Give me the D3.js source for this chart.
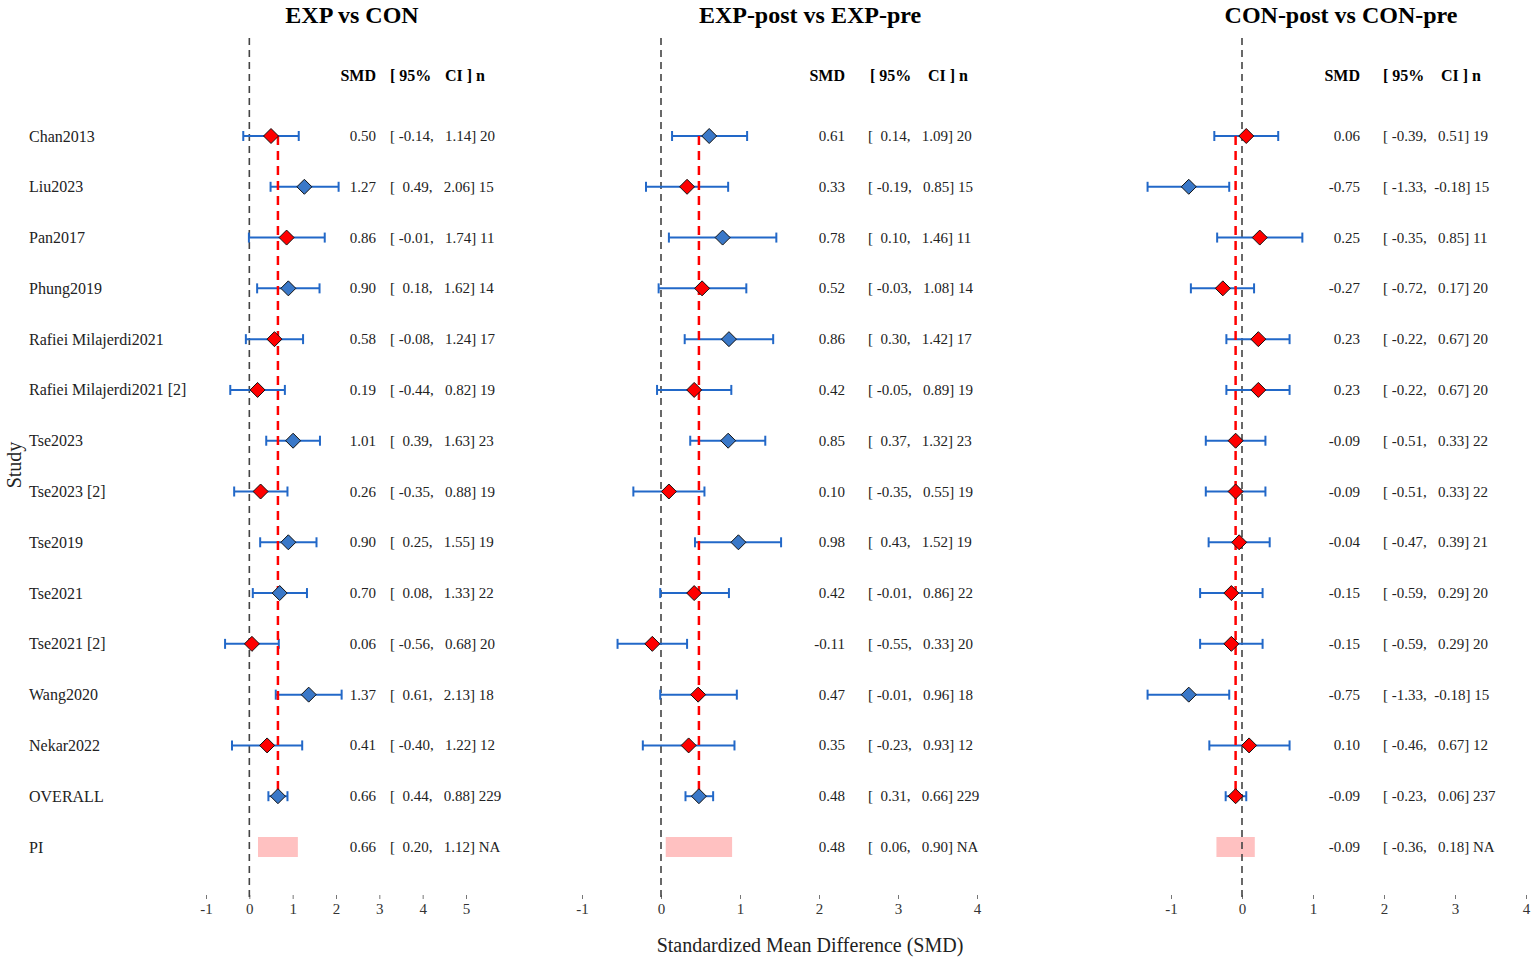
<!DOCTYPE html>
<html>
<head>
<meta charset="utf-8">
<script src="https://cdn.jsdelivr.net/npm/d3@7"></script>
<style>
  body { margin: 0; background: #fff; }
  text { font-family: "Liberation Serif", "Times New Roman", serif; }
</style>
</head>
<body>
<div id="forest"></div>
<script>
// Forest plots: three comparisons side by side, shared study list

var studies = ["Chan2013", "Liu2023", "Pan2017", "Phung2019", "Rafiei Milajerdi2021",
  "Rafiei Milajerdi2021 [2]", "Tse2023", "Tse2023 [2]", "Tse2019", "Tse2021",
  "Tse2021 [2]", "Wang2020", "Nekar2022", "OVERALL", "PI"];

// EXP vs CON
var expConSmd = [0.50, 1.27, 0.86, 0.90, 0.58, 0.19, 1.01, 0.26, 0.90, 0.70, 0.06, 1.37, 0.41, 0.66, 0.66];
var expConLo  = [-0.14, 0.49, -0.01, 0.18, -0.08, -0.44, 0.39, -0.35, 0.25, 0.08, -0.56, 0.61, -0.40, 0.44, 0.20];
var expConHi  = [1.14, 2.06, 1.74, 1.62, 1.24, 0.82, 1.63, 0.88, 1.55, 1.33, 0.68, 2.13, 1.22, 0.88, 1.12];
var expConN   = ["20", "15", "11", "14", "17", "19", "23", "19", "19", "22", "20", "18", "12", "229", "NA"];

// EXP-post vs EXP-pre
var expSmd = [0.61, 0.33, 0.78, 0.52, 0.86, 0.42, 0.85, 0.10, 0.98, 0.42, -0.11, 0.47, 0.35, 0.48, 0.48];
var expLo  = [0.14, -0.19, 0.10, -0.03, 0.30, -0.05, 0.37, -0.35, 0.43, -0.01, -0.55, -0.01, -0.23, 0.31, 0.06];
var expHi  = [1.09, 0.85, 1.46, 1.08, 1.42, 0.89, 1.32, 0.55, 1.52, 0.86, 0.33, 0.96, 0.93, 0.66, 0.90];
var expN   = ["20", "15", "11", "14", "17", "19", "23", "19", "19", "22", "20", "18", "12", "229", "NA"];

// CON-post vs CON-pre
var conSmd = [0.06, -0.75, 0.25, -0.27, 0.23, 0.23, -0.09, -0.09, -0.04, -0.15, -0.15, -0.75, 0.10, -0.09, -0.09];
var conLo  = [-0.39, -1.33, -0.35, -0.72, -0.22, -0.22, -0.51, -0.51, -0.47, -0.59, -0.59, -1.33, -0.46, -0.23, -0.36];
var conHi  = [0.51, -0.18, 0.85, 0.17, 0.67, 0.67, 0.33, 0.33, 0.39, 0.29, 0.29, -0.18, 0.67, 0.06, 0.18];
var conN   = ["19", "15", "11", "20", "20", "20", "22", "22", "21", "20", "20", "15", "12", "237", "NA"];

var titles = ["EXP vs CON", "EXP-post vs EXP-pre", "CON-post vs CON-pre"];
var ticks1 = [-1, 0, 1, 2, 3, 4, 5];
var ticks23 = [-1, 0, 1, 2, 3, 4];

var svgWidth = 1535;
var svgHeight = 963;

var svg = d3.select("#forest")
  .append("svg")
  .attr("width", svgWidth)
  .attr("height", svgHeight);

// layout of each panel (pixels)
var panels = [
  { title: titles[0], smd: expConSmd, lo: expConLo, hi: expConHi, n: expConN,
    domain: [-1, 5], range: [206, 466], ticks: ticks1, titleX: 352,
    smdX: 376, ciX: 390, h2X: 390, h3X: 445 },
  { title: titles[1], smd: expSmd, lo: expLo, hi: expHi, n: expN,
    domain: [-1, 4], range: [582, 977], ticks: ticks23, titleX: 810,
    smdX: 845, ciX: 868, h2X: 870, h3X: 928 },
  { title: titles[2], smd: conSmd, lo: conLo, hi: conHi, n: conN,
    domain: [-1, 4], range: [1171, 1526], ticks: ticks23, titleX: 1341,
    smdX: 1360, ciX: 1383, h2X: 1383, h3X: 1441 }
];

var yScale = d3.scalePoint()
  .domain(studies)
  .range([136, 847]);

var blue = "#3a78c8";
var red = "#ff0000";
var barColor = "#2268c8";

function pad(v) {
  return v.toFixed(2).padStart(6, " ");
}

// study labels
// ==============================
svg.selectAll(".study")
  .data(studies)
  .enter()
  .append("text")
  .attr("class", "study")
  .attr("x", 29)
  .attr("y", d => yScale(d) + 5.5)
  .attr("font-size", 16)
  .attr("fill", "#222")
  .text(d => d);

svg.append("text")
  .attr("transform", "translate(21, 465) rotate(-90)")
  .attr("text-anchor", "middle")
  .attr("font-size", 20)
  .attr("fill", "#222")
  .text("Study");

svg.append("text")
  .attr("x", 810)
  .attr("y", 952)
  .attr("text-anchor", "middle")
  .attr("font-size", 20)
  .attr("fill", "#222")
  .text("Standardized Mean Difference (SMD)");

panels.forEach(function(p) {
  var x = d3.scaleLinear().domain(p.domain).range(p.range);
  var g = svg.append("g");

  var rows = studies.map(function(s, i) {
    return { study: s, smd: p.smd[i], lo: p.lo[i], hi: p.hi[i], n: p.n[i] };
  });
  var studyRows = rows.filter(d => d.study != "PI");
  var overall = rows[13];
  var pi = rows[14];

  // title + column headers
  g.append("text")
    .attr("x", p.titleX)
    .attr("y", 23)
    .attr("text-anchor", "middle")
    .attr("font-size", 24)
    .attr("font-weight", "bold")
    .text(p.title);

  var hdr = [["SMD", p.smdX, "end"], ["[ 95%", p.h2X, "start"], ["CI ] n", p.h3X, "start"]];
  g.selectAll(".hdr")
    .data(hdr)
    .enter()
    .append("text")
    .attr("x", d => d[1])
    .attr("y", 81)
    .attr("text-anchor", d => d[2])
    .attr("font-size", 16)
    .attr("font-weight", "bold")
    .text(d => d[0]);

  // axis (ticks only, no line)
  var axis = d3.axisBottom(x)
    .tickValues(p.ticks)
    .tickSize(4)
    .tickPadding(4)
    .tickFormat(d => String(d));
  var ax = g.append("g")
    .attr("transform", "translate(0, 895)")
    .call(axis);
  ax.select(".domain").remove();
  ax.selectAll("line").attr("stroke", "#777");
  ax.selectAll("text")
    .attr("font-size", 15)
    .attr("fill", "#333")
    .style("font-family", "'Liberation Serif', serif");

  // PI band
  g.append("rect")
    .attr("x", x(pi.lo))
    .attr("y", yScale("PI") - 10)
    .attr("width", x(pi.hi) - x(pi.lo))
    .attr("height", 20)
    .attr("fill", "#ffc1c1");

  // zero line
  g.append("line")
    .attr("x1", x(0)).attr("x2", x(0))
    .attr("y1", 38).attr("y2", 900)
    .attr("stroke", "#444")
    .attr("stroke-width", 1.6)
    .attr("stroke-dasharray", "7,5");

  // error bars
  g.selectAll(".bar")
    .data(studyRows)
    .enter()
    .append("line")
    .attr("x1", d => x(d.lo)).attr("x2", d => x(d.hi))
    .attr("y1", d => yScale(d.study)).attr("y2", d => yScale(d.study))
    .attr("stroke", barColor)
    .attr("stroke-width", 2);

  ["lo", "hi"].forEach(function(k) {
    g.selectAll(".cap" + k)
      .data(studyRows)
      .enter()
      .append("line")
      .attr("x1", d => x(d[k])).attr("x2", d => x(d[k]))
      .attr("y1", d => yScale(d.study) - 5).attr("y2", d => yScale(d.study) + 5)
      .attr("stroke", barColor)
      .attr("stroke-width", 2);
  });

  // pooled estimate line
  g.append("line")
    .attr("x1", x(overall.smd)).attr("x2", x(overall.smd))
    .attr("y1", yScale(studies[0])).attr("y2", yScale("OVERALL"))
    .attr("stroke", red)
    .attr("stroke-width", 2.5)
    .attr("stroke-dasharray", "9,6");

  // diamonds, blue when CI excludes zero
  g.selectAll(".pt")
    .data(studyRows)
    .enter()
    .append("path")
    .attr("d", "M0,-7.5L7.5,0L0,7.5L-7.5,0Z")
    .attr("transform", d => `translate(${x(d.smd)}, ${yScale(d.study)})`)
    .attr("fill", d => (d.lo > 0 || d.hi < 0) ? blue : red)
    .attr("stroke", "#111")
    .attr("stroke-width", 1);

  // value columns
  g.selectAll(".smd")
    .data(rows)
    .enter()
    .append("text")
    .attr("x", p.smdX)
    .attr("y", d => yScale(d.study) + 5)
    .attr("text-anchor", "end")
    .attr("font-size", 15)
    .attr("fill", "#222")
    .text(d => d.smd.toFixed(2));

  g.selectAll(".ci")
    .data(rows)
    .enter()
    .append("text")
    .attr("x", p.ciX)
    .attr("y", d => yScale(d.study) + 5)
    .attr("font-size", 15)
    .attr("fill", "#222")
    .style("white-space", "pre")
    .text(d => "[" + pad(d.lo) + ", " + pad(d.hi) + "] " + d.n);
});
</script>
</body>
</html>
